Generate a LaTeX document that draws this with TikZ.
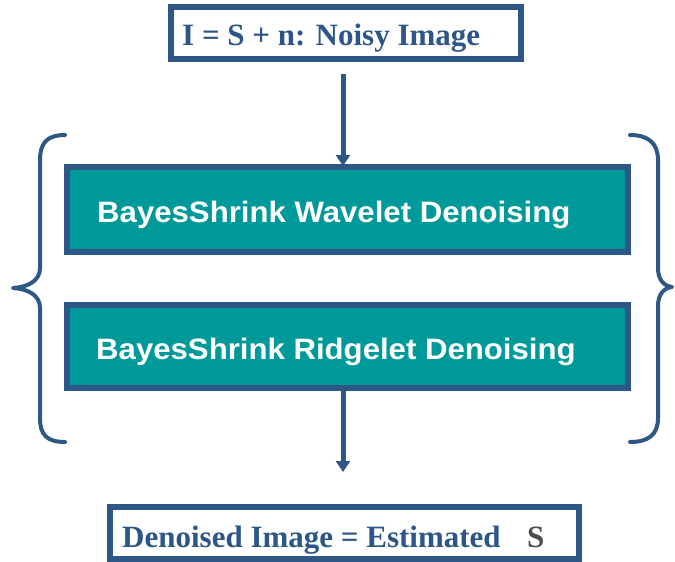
\documentclass[tikz,border=0pt]{standalone}
\usepackage{fontspec}
\setmainfont{Liberation Serif}
\setsansfont{Liberation Sans}
\usetikzlibrary{arrows.meta}
\definecolor{navy}{HTML}{2E5786}
\definecolor{tealbox}{HTML}{009999}
\definecolor{txtblue}{HTML}{2C5687}
\definecolor{sgray}{HTML}{4D4D4D}
\tikzset{
  whitebox/.style={draw=navy, line width=6pt, fill=white, rectangle, inner sep=0pt},
  greenbox/.style={draw=navy, line width=6pt, fill=tealbox, rectangle, inner sep=0pt,
    minimum width=561pt, minimum height=85pt},
  serlabel/.style={anchor=base west, inner sep=0pt, text=txtblue,
    font=\fontsize{31}{31}\selectfont\bfseries},
  sanslabel/.style={anchor=base west, inner sep=0pt, text=white,
    font=\fontsize{29.5}{30}\selectfont\sffamily\bfseries},
  flow/.style={draw=navy, line width=5pt, -{Triangle[width=14pt,length=11pt]}},
  brace/.style={draw=navy, line width=4pt, line cap=round, line join=round}
}
\begin{document}
\begin{tikzpicture}[x=1pt,y=-1pt]
\useasboundingbox (0,0) rectangle (675,562);
% boxes
\node[whitebox, minimum width=350pt, minimum height=52pt] (top) at (346,33) {};
\node[greenbox] (g1) at (347.5,209.5) {};
\node[greenbox, minimum height=83pt] (g2) at (347.5,346.5) {};
\node[whitebox, minimum width=469pt, minimum height=52pt] (bot) at (344.5,533) {};
% texts
\node[serlabel] (ttop) at (182,45) {I = S + n: Noisy Image};
\node[sanslabel] (t1) at (97,222) {\scalebox{1.056}[1]{BayesShrink Wavelet Denoising}};
\node[sanslabel] (t2) at (96,359) {\scalebox{1.056}[1]{BayesShrink Ridgelet Denoising}};
\node[serlabel] (tbot) at (122,547) {Denoised Image = Estimated};
\node[serlabel, text=sgray] (tS) at (527,547) {S};
% arrows
\coordinate (ax) at (343,0);
\draw[flow, shorten <=12pt, shorten >=-2pt] (top.south -| ax) -- (g1.north -| ax);
\draw[flow, shorten >=32pt] (g2.south -| ax) -- (bot.north -| ax);
% braces
\draw[brace] (65,135) .. controls (47,135) and (40,143) .. (40,160)
  -- (40,268) .. controls (40,281) and (28,287) .. (13,288)
  .. controls (28,289) and (40,295) .. (40,308)
  -- (40,418) .. controls (40,435) and (47,442) .. (65,442);
\draw[brace] (630,135) .. controls (648,135) and (658,143) .. (658,160)
  -- (658,268) .. controls (658,280) and (664,286) .. (672,287)
  .. controls (664,288) and (658,294) .. (658,306)
  -- (658,418) .. controls (658,435) and (648,442) .. (630,442);
\end{tikzpicture}
\end{document}
